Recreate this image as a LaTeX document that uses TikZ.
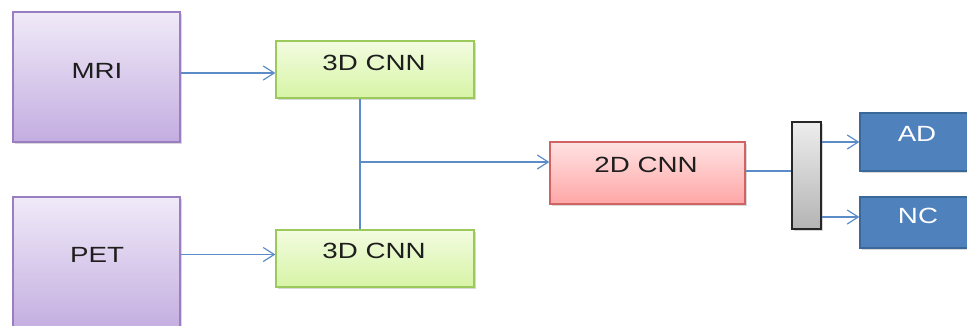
\documentclass[tikz,border=0pt]{standalone}
\usepackage{fontspec}
\setmainfont[FakeStretch=1.26]{Liberation Sans}
\usetikzlibrary{arrows.meta,shadows}
\definecolor{purpT}{HTML}{F0EAF8}
\definecolor{purpB}{HTML}{C3ADE0}
\definecolor{purpD}{HTML}{9A7EC2}
\definecolor{grnT}{HTML}{F3FCE0}
\definecolor{grnB}{HTML}{D6F4A6}
\definecolor{grnD}{HTML}{9CC95C}
\definecolor{redT}{HTML}{FFE2E2}
\definecolor{redB}{HTML}{FFA6A6}
\definecolor{redD}{HTML}{D06464}
\definecolor{barT}{HTML}{EDEDED}
\definecolor{barB}{HTML}{B4B4B4}
\definecolor{blueF}{HTML}{4F81BD}
\definecolor{blueD}{HTML}{3A6898}
\definecolor{lineC}{HTML}{5B8CC8}
\definecolor{txtC}{HTML}{1E1E1E}
\tikzset{
  box/.style={rectangle, inner sep=0pt, line width=1.3pt,
    drop shadow={shadow xshift=1.5pt, shadow yshift=-2pt, opacity=0.3}},
  purpbox/.style={box, draw=purpD, top color=purpT, bottom color=purpB},
  grnbox/.style={box, draw=grnD, top color=grnT, bottom color=grnB},
  redbox/.style={box, draw=redD, top color=redT, bottom color=redB},
  barbox/.style={box, draw=black!85, line width=1.7pt, top color=barT, bottom color=barB},
  bluebox/.style={box, draw=blueD, fill=blueF},
  lbl/.style={inner sep=0pt, text=txtC, font=\fontsize{22}{25}\selectfont},
  wlbl/.style={lbl, text=white},
  conn/.style={draw=lineC, line width=1.2pt},
  arr/.style={conn, -{Straight Barb[length=11pt,width=14pt,line width=1.2pt]}}
}
\begin{document}
\begin{tikzpicture}[x=1pt,y=-1pt]
\useasboundingbox (0,0) rectangle (967,325);
\clip (0,0) rectangle (967,325);
% boxes
\node[purpbox, minimum width=167pt, minimum height=130pt] (mri) at (96.5,77) {};
\node[purpbox, minimum width=167pt, minimum height=134pt] (pet) at (96.5,264) {};
\node[grnbox, minimum width=198pt, minimum height=57pt] (c1) at (375,69.5) {};
\node[grnbox, minimum width=198pt, minimum height=57pt] (c2) at (375,258.5) {};
\node[redbox, minimum width=195pt, minimum height=62pt] (cnn2) at (647.5,173) {};
\node[barbox, minimum width=29pt, minimum height=107pt] (bar) at (806.5,175.5) {};
\node[bluebox, minimum width=116pt, minimum height=58pt] (ad) at (918,142) {};
\node[bluebox, minimum width=116pt, minimum height=51pt] (nc) at (918,222.5) {};
% labels
\node[lbl] (tmri) at (97,71) {MRI};
\node[lbl] (tpet) at (97,255) {PET};
\node[lbl] (tc1) at (374,63) {3D CNN};
\node[lbl] (tc2) at (374,251) {3D CNN};
\node[lbl] (tcnn2) at (646,165) {2D CNN};
\node[wlbl] (tad) at (917,134) {AD};
\node[wlbl] (tnc) at (918,216) {NC};
% connectors
\coordinate (j) at (360,162);
\draw[arr] ([yshift=4pt]mri.east) -- ([yshift=4pt]mri.east -| c1.west);
\draw[arr] ([yshift=9.5pt]pet.east) -- ([yshift=9.5pt]pet.east -| c2.west);
\draw[conn] (c1.south -| j) -- (c2.north -| j);
\draw[arr] (j) -- (j -| cnn2.west);
\draw[conn] ([yshift=2pt]cnn2.east) -- ([yshift=2pt]cnn2.east -| bar.west);
\draw[arr] (bar.east |- ad.west) -- (ad.west);
\draw[arr] ([yshift=5.5pt]bar.east |- nc.west) -- ([yshift=5.5pt]nc.west);
\end{tikzpicture}
\end{document}
